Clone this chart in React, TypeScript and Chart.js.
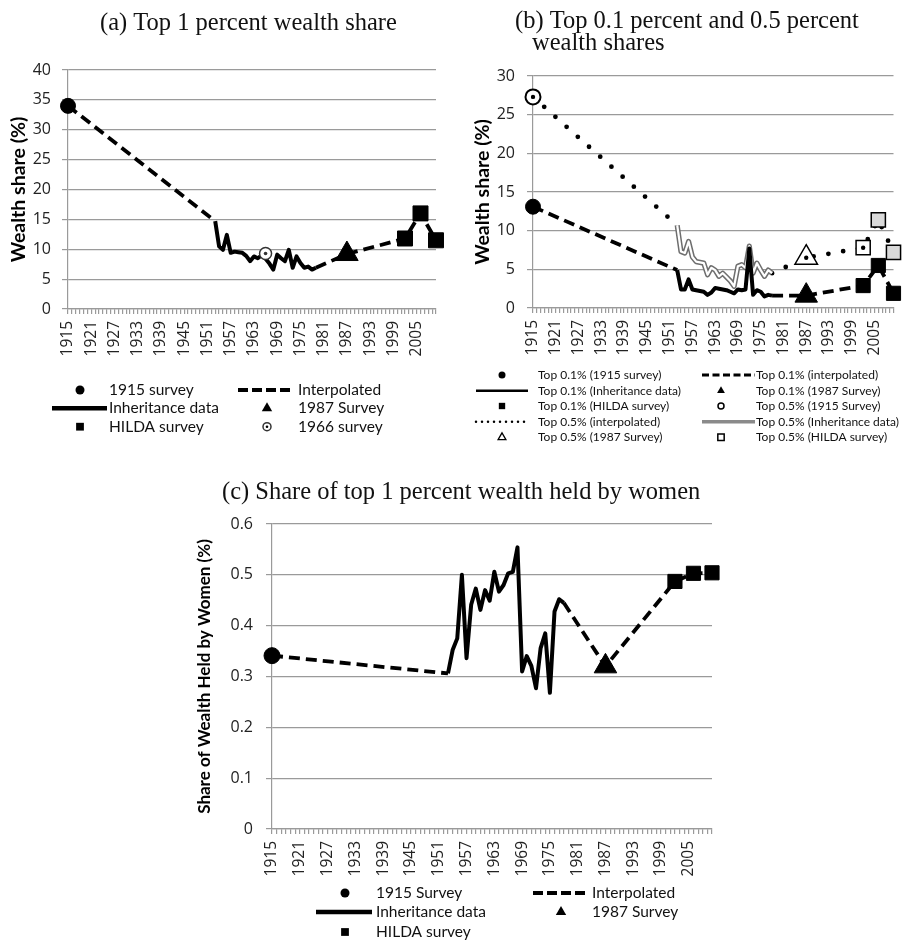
import React, { useEffect, useRef } from 'react';
import { Chart, registerables } from 'chart.js';

Chart.register(...registerables);
Chart.defaults.font.family = 'Lato, "Open Sans", sans-serif';

// ---------- categories ----------
const YEAR_FIRST = 1915;
const YEAR_LAST = 2010;
const YEARS: string[] = [];
for (let y = YEAR_FIRST; y <= YEAR_LAST; y++) YEARS.push(String(y));
const LABEL_EVERY = 6;

// ---------- panel (a): top 1 percent ----------
const A_INTERP_EARLY_YEARS = [1915, 1953];
const A_INTERP_EARLY = [34, 14.7];
const A_INTERP_LATE_YEARS = [1979, 1987, 2002, 2006, 2010];
const A_INTERP_LATE = [6.9, 9.2, 11.8, 16.0, 11.5];
const A_INHERIT_START = 1953;
const A_INHERIT = [14.7, 10.5, 9.9, 12.4, 9.4, 9.6, 9.5, 9.4, 8.9, 8.0, 8.8, 8.5, 9.0, 8.4, 7.6, 6.6, 9.1, 8.5, 8.0, 9.9, 6.9, 8.8, 7.7, 6.9, 7.1, 6.6, 6.9];
const A_1915 = [34];
const A_1987 = [9.2];
const A_HILDA_YEARS = [2002, 2006, 2010];
const A_HILDA = [11.8, 16.0, 11.5];
const A_1966 = [9.3];

// ---------- panel (b): top 0.1 and 0.5 percent ----------
const B_EARLY_YEARS = [1915, 1953];
const B_LATE_YEARS = [1978, 1987, 2002, 2006, 2010];
const B01_INTERP_EARLY = [13.1, 4.9];
const B01_INTERP_LATE = [1.6, 1.6, 2.9, 5.5, 1.9];
const B01_INHERIT_START = 1953;
const B01_INHERIT = [4.9, 2.4, 2.4, 3.7, 2.4, 2.3, 2.2, 2.1, 1.7, 2.0, 2.6, 2.5, 2.4, 2.3, 2.1, 1.9, 2.4, 2.3, 2.4, 7.7, 1.7, 2.3, 2.1, 1.5, 1.7, 1.6];
const B01_1915 = [13.1];
const B01_1987 = [1.6];
const B01_HILDA = [2.9, 5.5, 1.9];
const B05_INTERP_EARLY = [27.3, 10.7];
const B05_INTERP_LATE = [4.5, 6.5, 7.8, 11.4, 7.2];
const B05_INHERIT_START = 1953;
const B05_INHERIT = [10.7, 7.3, 7.1, 8.6, 6.6, 6.0, 5.9, 5.8, 4.3, 5.2, 4.9, 4.1, 4.5, 4.0, 3.5, 2.8, 5.4, 5.6, 5.2, 8.0, 4.5, 5.8, 4.9, 4.1, 4.9, 4.5];
const B05_1915 = [27.3];
const B05_1987 = [6.5];
const B05_HILDA = [7.8, 11.4, 7.2];
const B_HILDA_YEARS = [2002, 2006, 2010];

// ---------- panel (c): share held by women ----------
const C_INTERP_EARLY_YEARS = [1915, 1953];
const C_INTERP_EARLY = [0.341, 0.306];
const C_INTERP_LATE_YEARS = [1978, 1987, 2002, 2006, 2010];
const C_INTERP_LATE = [0.445, 0.32, 0.487, 0.503, 0.504];
const C_INHERIT_START = 1953;
const C_INHERIT = [0.306, 0.352, 0.375, 0.5, 0.336, 0.441, 0.473, 0.431, 0.47, 0.449, 0.506, 0.467, 0.48, 0.503, 0.506, 0.554, 0.31, 0.34, 0.321, 0.277, 0.356, 0.385, 0.268, 0.428, 0.452, 0.445];
const C_1915 = [0.341];
const C_1987 = [0.32];
const C_HILDA_YEARS = [2002, 2006, 2010];
const C_HILDA = [0.487, 0.503, 0.504];

// ---------- helpers ----------
const pts = (years: number[], values: number[]) => years.map((y, i) => ({ x: String(y), y: values[i] }));
const run = (start: number, values: number[]) => values.map((v, i) => ({ x: String(start + i), y: v }));
// two separate dashed pieces with a break between them
const twoPieces = (ey: number[], ev: number[], ly: number[], lv: number[]) => [
  ...pts(ey, ev),
  { x: String(ey[ey.length - 1] + 1), y: null },
  ...pts(ly, lv),
];

const GRID = '#9a9a9a';
const TICK = '#222';
const BLACK = '#000';
const NUM_FONT = '"Open Sans", Lato, sans-serif';
const DASH = [11, 6];

function lineDs(label: string, data: any[], color: string, width: number, dash: number[] = [], cap: CanvasLineCap = 'butt') {
  return {
    type: 'line', label, data, borderColor: color, borderWidth: width, borderDash: dash,
    borderCapStyle: cap, borderJoinStyle: 'round', pointRadius: 0, pointHoverRadius: 0, fill: false, tension: 0,
    spanGaps: false,
  };
}
function markerDs(label: string, data: any[], shape: string, r: number, fill: any, stroke: string, bw: number) {
  return {
    type: 'line', label, data, showLine: false, pointStyle: shape, pointRadius: r, pointHoverRadius: r,
    pointBackgroundColor: fill, pointBorderColor: stroke, pointBorderWidth: bw,
    backgroundColor: fill, borderColor: stroke,
  };
}

function xScale(height: number) {
  return {
    type: 'category',
    offset: false,
    grid: { drawOnChartArea: false, drawTicks: true, tickLength: 5, color: GRID, lineWidth: 1.2 },
    border: { display: true, color: GRID, width: 1.2 },
    ticks: {
      autoSkip: false, minRotation: 90, maxRotation: 90, padding: 7, color: TICK, font: { size: 15.5, family: NUM_FONT },
      callback: (_v: any, i: number) => (i % LABEL_EVERY === 0 ? YEARS[i] : ''),
    },
    afterFit: (s: any) => { s.height = height; s.paddingLeft = 0; s.paddingRight = 0; },
  };
}
function yScale(min: number, max: number, step: number, width: number, title: string, titleSize: number, titlePad: number, tickPad: number, decimals: number) {
  return {
    type: 'linear', min, max,
    grid: { color: GRID, lineWidth: 1.2, tickLength: 6, drawTicks: true },
    border: { display: true, color: GRID, width: 1.2 },
    ticks: {
      stepSize: step, padding: tickPad, color: TICK, font: { size: 16, family: NUM_FONT },
      callback: (v: any) => String(Number(Number(v).toFixed(decimals))),
    },
    title: { display: true, text: title, color: BLACK, font: { size: titleSize, weight: 'bold' }, padding: { top: titlePad, bottom: 0 } },
    afterFit: (s: any) => { s.width = width; s.paddingTop = 0; s.paddingBottom = 0; },
  };
}

type Item = {
  text: string; kind: 'line' | 'marker';
  color?: string; width?: number; dash?: number[]; cap?: CanvasLineCap;
  shape?: string; r?: number; fill?: string; stroke?: string; bw?: number; dot?: number;
};
type Legend = { fontSize: number; rows: number[]; cols: { marker: number; line: [number, number]; text: number }[]; items: Item[] };
type Title = { text: string; x: number; y: number };

function drawShape(ctx: CanvasRenderingContext2D, shape: string, x: number, y: number, r: number) {
  ctx.beginPath();
  if (shape === 'circle') ctx.arc(x, y, r, 0, Math.PI * 2);
  else if (shape === 'triangle') {
    for (let k = 0; k < 3; k++) {
      const a = (k * 2 * Math.PI) / 3;
      const px = x + Math.sin(a) * r, py = y - Math.cos(a) * r;
      if (k === 0) ctx.moveTo(px, py); else ctx.lineTo(px, py);
    }
    ctx.closePath();
  } else {
    const s = r * Math.SQRT1_2;
    ctx.rect(x - s, y - s, 2 * s, 2 * s);
  }
}

function makeDecor(titles: Title[], legend: Legend) {
  return {
    id: 'panelDecor',
    afterDraw(chart: any) {
      const ctx: CanvasRenderingContext2D = chart.ctx;
      ctx.save();
      ctx.fillStyle = '#111';
      ctx.textAlign = 'left';
      ctx.textBaseline = 'alphabetic';
      ctx.font = '24.5px "Liberation Serif", "Times New Roman", serif';
      titles.forEach((t) => ctx.fillText(t.text, t.x, t.y));
      const nc = legend.cols.length;
      legend.items.forEach((it, i) => {
        const c = legend.cols[i % nc];
        const y = legend.rows[Math.floor(i / nc)];
        ctx.save();
        if (it.kind === 'line') {
          ctx.beginPath();
          ctx.strokeStyle = it.color || BLACK;
          ctx.lineWidth = it.width || 3;
          ctx.setLineDash(it.dash || []);
          ctx.lineCap = it.cap || 'butt';
          ctx.moveTo(c.line[0], y);
          ctx.lineTo(c.line[1], y);
          ctx.stroke();
        } else {
          drawShape(ctx, it.shape || 'circle', c.marker, y, it.r || 4);
          ctx.fillStyle = it.fill || BLACK;
          ctx.fill();
          if (it.bw) { ctx.lineWidth = it.bw; ctx.strokeStyle = it.stroke || BLACK; ctx.stroke(); }
          if (it.dot) { drawShape(ctx, 'circle', c.marker, y, it.dot); ctx.fillStyle = BLACK; ctx.fill(); }
        }
        ctx.restore();
        ctx.fillStyle = '#111';
        ctx.font = `${legend.fontSize}px Lato, "Open Sans", sans-serif`;
        ctx.textBaseline = 'middle';
        ctx.fillText(it.text, c.text, y);
      });
      ctx.restore();
    },
  };
}

function baseOptions(padding: any, x: any, y: any) {
  return {
    responsive: false, maintainAspectRatio: false, animation: false, devicePixelRatio: 1,
    layout: { padding },
    plugins: { legend: { display: false }, tooltip: { enabled: false }, title: { display: false } },
    scales: { x, y },
  };
}

// ---------- chart configs ----------
function configA(): any {
  const datasets = [
    markerDs('1966 survey centre', pts([1966], A_1966), 'circle', 1.8, '#333', '#333', 0),
    markerDs('1966 survey', pts([1966], A_1966), 'circle', 6, '#fff', '#333', 1.5),
    markerDs('1915 survey', pts([1915], A_1915), 'circle', 7.5, BLACK, BLACK, 1),
    markerDs('1987 Survey', pts([1987], A_1987), 'triangle', 13, BLACK, BLACK, 1),
    markerDs('HILDA survey', pts(A_HILDA_YEARS, A_HILDA), 'rect', 10.6, BLACK, BLACK, 1),
    lineDs('Inheritance data', run(A_INHERIT_START, A_INHERIT), BLACK, 4),
    lineDs('Interpolated', twoPieces(A_INTERP_EARLY_YEARS, A_INTERP_EARLY, A_INTERP_LATE_YEARS, A_INTERP_LATE), BLACK, 3.8, DASH),
  ];
  const legend: Legend = {
    fontSize: 15.5,
    rows: [390, 408.3, 426.7],
    cols: [{ marker: 80, line: [52, 107], text: 109 }, { marker: 267, line: [238, 293], text: 298 }],
    items: [
      { text: '1915 survey', kind: 'marker', shape: 'circle', r: 4.5 },
      { text: 'Interpolated', kind: 'line', width: 4, dash: [10, 4] },
      { text: 'Inheritance data', kind: 'line', width: 4.5 },
      { text: '1987 Survey', kind: 'marker', shape: 'triangle', r: 6 },
      { text: 'HILDA survey', kind: 'marker', shape: 'rect', r: 5.5 },
      { text: '1966 survey', kind: 'marker', shape: 'circle', r: 4, fill: '#fff', stroke: '#333', bw: 1.5, dot: 1.3 },
    ],
  };
  return {
    type: 'line',
    data: { labels: YEARS, datasets },
    options: baseOptions({ top: 70, left: 0, right: 7, bottom: 111 }, xScale(50), yScale(0, 40, 5, 68, 'Wealth share (%)', 19.5, 7, 11, 0)),
    plugins: [makeDecor([{ text: '(a) Top 1 percent wealth share', x: 100, y: 30 }], legend)],
  };
}

function configB(): any {
  const centreDots = [
    ...pts([1915], B05_1915),
    ...pts([1987], B05_1987),
    ...pts([B_HILDA_YEARS[0]], [B05_HILDA[0]]),
  ];
  const datasets = [
    markerDs('Top 0.1% (1915 survey)', pts([1915], B01_1915), 'circle', 7.5, BLACK, BLACK, 1),
    markerDs('Top 0.1% (1987 Survey)', pts([1987], B01_1987), 'triangle', 13, BLACK, BLACK, 1),
    markerDs('Top 0.1% (HILDA survey)', pts(B_HILDA_YEARS, B01_HILDA), 'rect', 10, BLACK, BLACK, 1),
    markerDs('Top 0.5% centre dots', centreDots, 'circle', 2.2, BLACK, BLACK, 0),
    markerDs('Top 0.5% (1915 Survey)', pts([1915], B05_1915), 'circle', 7.5, '#fff', BLACK, 2),
    markerDs('Top 0.5% (1987 Survey)', pts([1987], B05_1987), 'triangle', 13, '#fff', BLACK, 1.5),
    markerDs('Top 0.5% (HILDA survey)', pts(B_HILDA_YEARS, B05_HILDA), 'rect', 10, ['#fff', '#d9d9d9', '#d9d9d9'], BLACK, 1.5),
    lineDs('Top 0.1% (Inheritance data)', run(B01_INHERIT_START, B01_INHERIT), BLACK, 4),
    lineDs('Top 0.1% (interpolated)', twoPieces(B_EARLY_YEARS, B01_INTERP_EARLY, B_LATE_YEARS, B01_INTERP_LATE), BLACK, 3.8, DASH),
    lineDs('Top 0.5% (Inheritance data) inner', run(B05_INHERIT_START, B05_INHERIT), '#fff', 2.2),
    lineDs('Top 0.5% (Inheritance data)', run(B05_INHERIT_START, B05_INHERIT), '#6e6e6e', 5.2),
    lineDs('Top 0.5% (interpolated)', twoPieces(B_EARLY_YEARS, B05_INTERP_EARLY, B_LATE_YEARS, B05_INTERP_LATE), BLACK, 4.8, [0, 15], 'round'),
  ];
  const legend: Legend = {
    fontSize: 12,
    rows: [375, 390.7, 406, 421.7, 437.3],
    cols: [{ marker: 52, line: [26, 78], text: 88 }, { marker: 271, line: [252, 305], text: 306 }],
    items: [
      { text: 'Top 0.1% (1915 survey)', kind: 'marker', shape: 'circle', r: 3.5 },
      { text: 'Top 0.1% (interpolated)', kind: 'line', width: 3, dash: [7, 3.5] },
      { text: 'Top 0.1% (Inheritance data)', kind: 'line', width: 2.5 },
      { text: 'Top 0.1% (1987 Survey)', kind: 'marker', shape: 'triangle', r: 4.5 },
      { text: 'Top 0.1% (HILDA survey)', kind: 'marker', shape: 'rect', r: 4.5 },
      { text: 'Top 0.5% (1915 Survey)', kind: 'marker', shape: 'circle', r: 3, fill: '#fff', bw: 1.5 },
      { text: 'Top 0.5% (interpolated)', kind: 'line', width: 2.5, dash: [0, 6], cap: 'round' },
      { text: 'Top 0.5% (Inheritance data)', kind: 'line', width: 3.5, color: '#8a8a8a' },
      { text: 'Top 0.5% (1987 Survey)', kind: 'marker', shape: 'triangle', r: 4.5, fill: '#fff', bw: 1.3 },
      { text: 'Top 0.5% (HILDA survey)', kind: 'marker', shape: 'rect', r: 4.5, fill: '#fff', bw: 1.5 },
    ],
  };
  return {
    type: 'line',
    data: { labels: YEARS, datasets },
    options: baseOptions({ top: 76, left: 0, right: 13, bottom: 112 }, xScale(50), yScale(0, 30, 5, 83, 'Wealth share (%)', 19.5, 21.3, 12, 0)),
    plugins: [makeDecor([
      { text: '(b) Top 0.1 percent and 0.5 percent', x: 65, y: 28 },
      { text: 'wealth shares', x: 82, y: 50 },
    ], legend)],
  };
}

function configC(): any {
  const datasets = [
    markerDs('1915 Survey', pts([1915], C_1915), 'circle', 8, BLACK, BLACK, 1),
    markerDs('1987 Survey', pts([1987], C_1987), 'triangle', 13, BLACK, BLACK, 1),
    markerDs('HILDA survey', pts(C_HILDA_YEARS, C_HILDA), 'rect', 10, BLACK, BLACK, 1),
    lineDs('Inheritance data', run(C_INHERIT_START, C_INHERIT), BLACK, 4),
    lineDs('Interpolated', twoPieces(C_INTERP_EARLY_YEARS, C_INTERP_EARLY, C_INTERP_LATE_YEARS, C_INTERP_LATE), BLACK, 3.8, DASH),
  ];
  const legend: Legend = {
    fontSize: 15.5,
    rows: [423, 442, 462],
    cols: [{ marker: 195, line: [166, 222], text: 226 }, { marker: 411, line: [383, 438], text: 442 }],
    items: [
      { text: '1915 Survey', kind: 'marker', shape: 'circle', r: 4.5 },
      { text: 'Interpolated', kind: 'line', width: 4, dash: [10, 4] },
      { text: 'Inheritance data', kind: 'line', width: 4.5 },
      { text: '1987 Survey', kind: 'marker', shape: 'triangle', r: 6 },
      { text: 'HILDA survey', kind: 'marker', shape: 'rect', r: 5.5 },
    ],
  };
  return {
    type: 'line',
    data: { labels: YEARS, datasets },
    options: baseOptions({ top: 54, left: 0, right: 58, bottom: 61 }, xScale(50), yScale(0, 0.6, 0.1, 122, 'Share of Wealth Held by Women (%)', 17, 44.8, 13, 1)),
    plugins: [makeDecor([{ text: '(c) Share of top 1 percent wealth held by women', x: 72, y: 29 }], legend)],
  };
}

function Panel({ build, left, top, width, height }: { build: () => any; left: number; top: number; width: number; height: number }) {
  const ref = useRef<HTMLCanvasElement>(null);
  useEffect(() => {
    const chart = new Chart(ref.current as HTMLCanvasElement, build());
    return () => chart.destroy();
  }, []);
  return (
    <canvas
      ref={ref}
      width={width}
      height={height}
      style={{ position: 'absolute', left, top, width, height, display: 'block' }}
    />
  );
}

export default function App() {
  return (
    <div style={{ position: 'absolute', left: 0, top: 0, width: 908, height: 940, background: '#fff', overflow: 'hidden' }}>
      <Panel build={configA} left={0} top={0} width={450} height={470} />
      <Panel build={configB} left={450} top={0} width={458} height={470} />
      <Panel build={configC} left={150} top={470} width={620} height={470} />
    </div>
  );
}
